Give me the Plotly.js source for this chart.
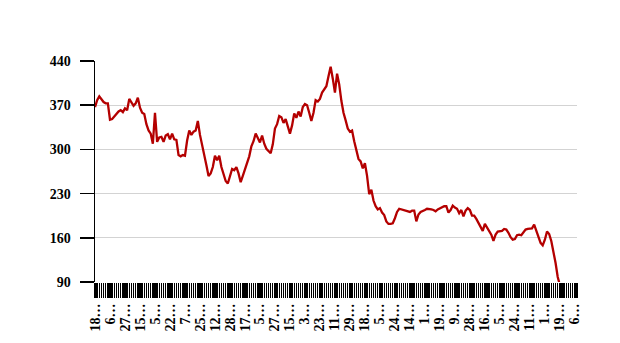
<!DOCTYPE html>
<html>
<head>
<meta charset="utf-8">
<script src="https://cdn.plot.ly/plotly-3.0.1.min.js"></script>
<style>html,body{margin:0;padding:0;background:#fff;}#chart{width:620px;height:343px;}</style>
</head>
<body>
<div id="chart"></div>
<script>
// Series values, one per category position
const values = [
  367,378,384,380,375,373,373,347,348,352,357,360,362,359,365,362,380,375,369,373,
  382,366,358,356,340,330,325,309,358,312,319,320,312,322,324,316,325,316,315,291,
  289,291,290,314,330,323,328,330,345,323,305,290,275,258,262,272,290,283,290,272,
  262,250,246,258,269,267,272,262,248,258,268,276,289,305,313,325,318,311,322,309,
  301,297,294,308,333,340,353,351,342,348,338,325,338,357,350,360,352,367,372,370,
  358,345,358,378,376,380,390,396,400,416,431,412,390,420,403,377,358,346,333,328,
  330,313,296,285,281,270,278,258,229,236,219,210,205,207,200,196,186,182,182,183,
  191,201,206,205,203,202,202,201,203,203,186,197,201,202,204,206,206,205,204,202,
  205,207,208,210,210,200,204,211,208,206,199,204,194,203,207,204,195,195,190,184,
  176,171,182,177,170,165,155,165,170,170,171,174,173,168,161,157,158,164,165,164,
  169,173,174,174,175,181,172,163,152,148,157,170,166,155,139,120,98,85
];
// Total number of category slots on the x axis
const categoryCount = 226;
// Tick labels shown every 7th category
const tickLabels = ["18…","6…","27…","15…","5…","22…","7…","25…","12…","28…","17…",
  "5…","27…","15…","3…","23…","11…","29…","18…","5…","24…","14…","1…","19…","9…",
  "28…","16…","5…","24…","11…","1…","19…","6…"];
const labelEvery = 7;
const yTicks = [90,160,230,300,370,440];

const xs = values.map((v,i)=>i);
const tickvals = [], ticktext = [];
for (let i=0;i<categoryCount;i++){
  tickvals.push(i);
  ticktext.push(i % labelEvery === 0 ? (tickLabels[i/labelEvery] || '') : '');
}

const trace = {
  x: xs, y: values, type: 'scatter', mode: 'lines',
  line: {color: '#b40000', width: 2.3},
  hoverinfo: 'skip'
};

const font = {family: '"Liberation Serif", "Times New Roman", serif', size: 14, color: '#000', weight: 'bold'};

const layout = {
  width: 620, height: 343,
  margin: {l: 95, r: 43, t: 61, b: 61, pad: 0},
  paper_bgcolor: '#fff', plot_bgcolor: '#fff',
  showlegend: false,
  xaxis: {
    type: 'linear', range: [0, categoryCount-1],
    tickmode: 'array', tickvals: tickvals, ticktext: ticktext,
    ticks: 'outside', ticklen: 15, tickwidth: 1.4, tickcolor: '#000',
    tickangle: -90, tickfont: font,
    showgrid: false, zeroline: false, showline: false
  },
  yaxis: {
    range: [90, 440], tickmode: 'array', tickvals: yTicks,
    ticks: 'outside', ticklen: 14, tickwidth: 1.5, tickcolor: '#000',
    tickfont: font, ticklabelstandoff: 6,
    showgrid: true, gridcolor: '#d3d3d3', gridwidth: 1,
    zeroline: false, showline: true, linecolor: '#000', linewidth: 1.5
  }
};

Plotly.newPlot('chart', [trace], layout, {displayModeBar: false, staticPlot: true});
</script>
</body>
</html>
